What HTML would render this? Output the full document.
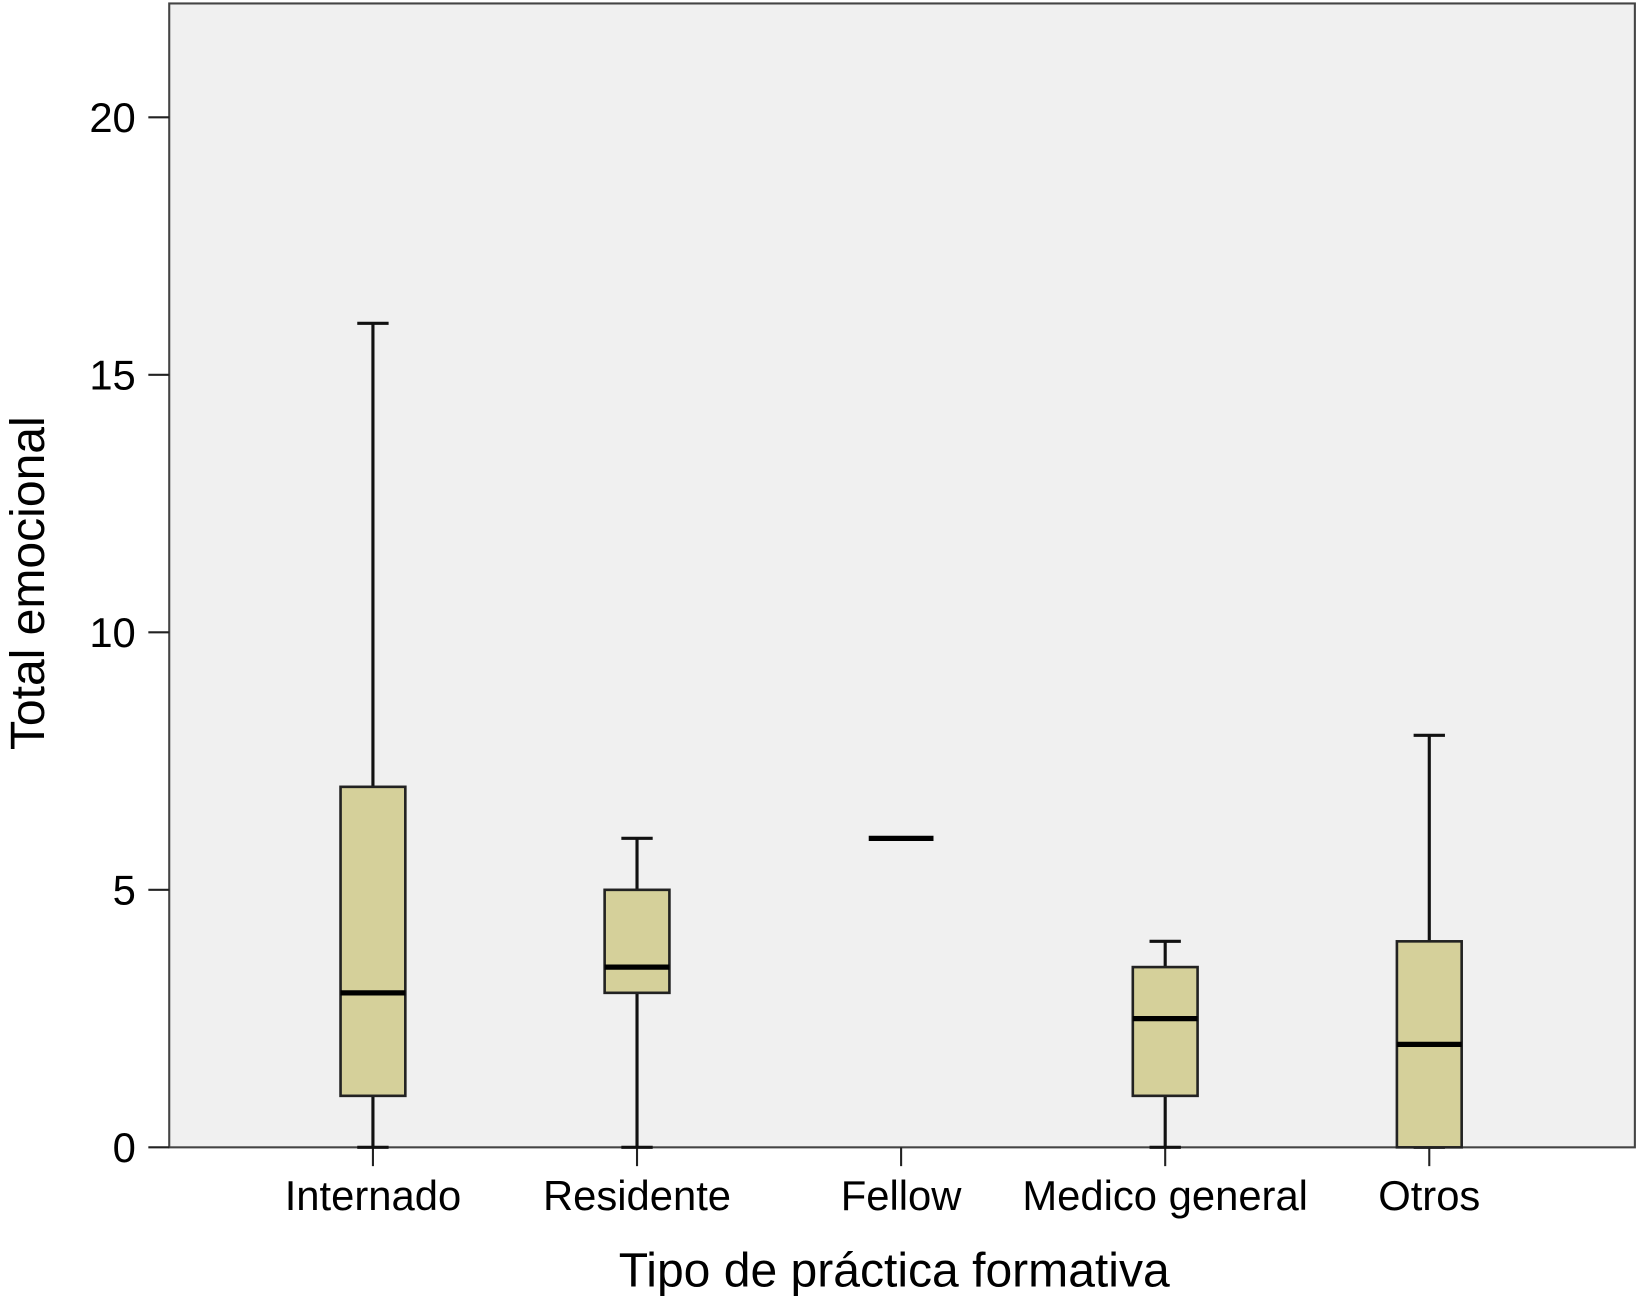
<!DOCTYPE html>
<html><head><meta charset="utf-8"><style>
html,body{margin:0;padding:0;background:#fff;}
svg{display:block;font-family:"Liberation Sans",sans-serif;}
</style></head><body>
<svg id="chart" width="1638" height="1296" viewBox="0 0 1568 1240" xmlns="http://www.w3.org/2000/svg">
<rect x="162" y="3" width="1403" height="1095" fill="#f0f0f0" stroke="#444" stroke-width="2"/>
<g id="yaxis"></g>
<g id="xaxis"></g>
<g id="boxes"></g>
<text transform="translate(42,558) rotate(-90)" text-anchor="middle" font-size="46">Total emocional</text>
<text x="856" y="1231" text-anchor="middle" font-size="46">Tipo de práctica formativa</text>
</svg>
<script>
const categories=["Internado","Residente","Fellow","Medico general","Otros"];
const mins=[0,0,6,0,0];
const q1s=[1,3,6,1,0];
const medians=[3,3.5,6,2.5,2];
const q3s=[7,5,6,3.5,4];
const maxs=[16,6,6,4,8];
const yTicks=[0,5,10,15,20];
const NS="http://www.w3.org/2000/svg";
const y=v=>1098-v*49.3;
const x=i=>357+i*252.8;
function mk(tag,attrs,parent){const e=document.createElementNS(NS,tag);for(const k in attrs)e.setAttribute(k,attrs[k]);parent.appendChild(e);return e;}
const ya=document.getElementById('yaxis'),xa=document.getElementById('xaxis'),bx=document.getElementById('boxes');
yTicks.forEach(t=>{
 const l=mk('line',{x1:142,x2:162,y1:y(t),y2:y(t),stroke:'#222','stroke-width':2},ya);
 
 
 const tx=mk('text',{x:130,y:y(t)+14,'text-anchor':'end','font-size':40},ya);tx.textContent=t;
 
 
});
categories.forEach((c,i)=>{
 const l=mk('line',{x1:x(i),x2:x(i),y1:1098,y2:1116,stroke:'#222','stroke-width':2},xa);
 
 
 const tx=mk('text',{x:x(i),y:1158,'text-anchor':'middle','font-size':40},xa);tx.textContent=c;
 
 
 const g=mk('g',{},bx);
 
 
 const cx=x(i),hw=31,cw=15;
 if(q3s[i]>q1s[i]||maxs[i]>mins[i]){
  mk('line',{x1:cx,x2:cx,y1:y(maxs[i]),y2:y(q3s[i]),stroke:'#111','stroke-width':3},g);
  mk('line',{x1:cx,x2:cx,y1:y(q1s[i]),y2:y(mins[i]),stroke:'#111','stroke-width':3},g);
  mk('line',{x1:cx-cw,x2:cx+cw,y1:y(maxs[i]),y2:y(maxs[i]),stroke:'#111','stroke-width':3},g);
  mk('line',{x1:cx-cw,x2:cx+cw,y1:y(mins[i]),y2:y(mins[i]),stroke:'#111','stroke-width':3},g);
  mk('rect',{x:cx-hw,y:y(q3s[i]),width:2*hw,height:y(q1s[i])-y(q3s[i]),fill:'#d5d09a',stroke:'#222','stroke-width':2.5},g);
 }
 mk('line',{x1:cx-hw,x2:cx+hw,y1:y(medians[i]),y2:y(medians[i]),stroke:'#000','stroke-width':5},g);
});
</script>
</body></html>
